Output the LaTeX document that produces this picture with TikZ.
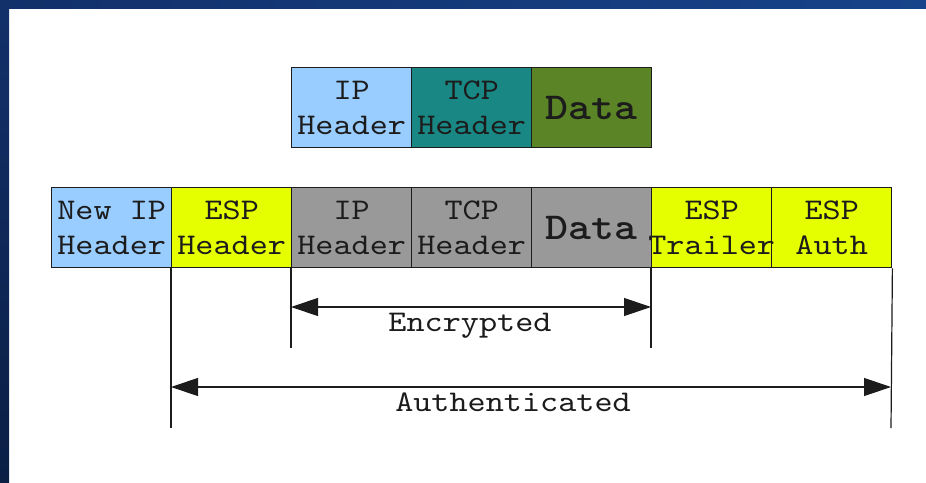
\documentclass[tikz,border=0pt]{standalone}
\usepackage{fontspec}
% typewriter face, widened to courier proportions
\newfontfamily\cellfont{lmmono10-regular.otf}[FakeStretch=1.15, BoldFont=lmmonolt10-bold.otf]
\usetikzlibrary{arrows.meta}
\definecolor{frameTL}{HTML}{12306A}
\definecolor{frameTR}{HTML}{17438A}
\definecolor{frameBL}{HTML}{0B1F45}
\definecolor{ipblue}{HTML}{99CCFF}
\definecolor{tcpteal}{HTML}{198884}
\definecolor{datagreen}{HTML}{5A8426}
\definecolor{espyellow}{HTML}{E5FF00}
\definecolor{encgray}{HTML}{999999}
\definecolor{ink}{HTML}{1C1C1C}
\begin{document}
\begin{tikzpicture}[x=1pt,y=-1pt,
  cell/.style={draw=ink, line width=1.4pt, minimum width=120pt, minimum height=80pt,
               inner sep=0pt, anchor=north west},
  lbl/.style={font=\cellfont\fontsize{30}{35}\selectfont, align=center, text=ink, inner sep=0pt},
  biglbl/.style={font=\cellfont\bfseries\fontsize{38}{40}\selectfont, text=ink, inner sep=0pt},
  rule/.style={draw=ink, line width=1.2pt},
  span/.style={rule, {Triangle[length=27pt,width=18pt]}-{Triangle[length=27pt,width=18pt]}}
]
% page frame: top band and left band
\useasboundingbox (0,0) rectangle (926,482);
\fill[white] (0,0) rectangle (926,482);
\shade[left color=frameTL, right color=frameTR] (0,0) rectangle (926,8);
\shade[top color=frameTL, bottom color=frameBL] (0,8) rectangle (9,482);

% original packet
\node[cell, fill=ipblue]    (iph)   at (291,67) {};
\node[cell, fill=tcpteal]   (tcph)  at (411,67) {};
\node[cell, fill=datagreen] (data)  at (531,67) {};
\node[lbl]    at (iph.center)  {IP\\Header};
\node[lbl]    at (tcph.center) {TCP\\Header};
\node[biglbl] at (data.center) {Data};

% ESP tunnel-mode packet
\node[cell, fill=ipblue]    (newip)   at (51,187)  {};
\node[cell, fill=espyellow] (esph)    at (171,187) {};
\node[cell, fill=encgray]   (ipin)    at (291,187) {};
\node[cell, fill=encgray]   (tcpin)   at (411,187) {};
\node[cell, fill=encgray]   (datain)  at (531,187) {};
\node[cell, fill=espyellow] (esptr)   at (651,187) {};
\node[cell, fill=espyellow] (espauth) at (771,187) {};
\node[lbl]    at (newip.center)   {New IP\\Header};
\node[lbl]    at (esph.center)    {ESP\\Header};
\node[lbl]    at (ipin.center)    {IP\\Header};
\node[lbl]    at (tcpin.center)   {TCP\\Header};
\node[biglbl] at (datain.center)  {Data};
\node[lbl]    at (esptr.center)   {ESP\\Trailer};
\node[lbl]    at (espauth.center) {ESP\\Auth};

% extent markers
\coordinate (encLbot) at (291,348);
\coordinate (encRbot) at (651,348);
\coordinate (autLbot) at (171,428);
\coordinate (autRbot) at (891,428);
\draw[rule] (ipin.south west)     -- (encLbot);
\draw[rule] (esptr.south west)    -- (encRbot);
\draw[rule] (esph.south west)     -- (autLbot);
\draw[rule] (espauth.south east)  -- (autRbot);

\coordinate (encL) at (291,307);
\coordinate (encR) at (651,307);
\coordinate (autL) at (171,387);
\coordinate (autR) at (891,387);
\draw[span] (encL) -- (encR);
\draw[span] (autL) -- (autR);
\node[lbl, anchor=base] (enclbl) at (470,331) {Encrypted};
\node[lbl, anchor=base] (autlbl) at (513,411) {Authenticated};
\end{tikzpicture}
\end{document}
